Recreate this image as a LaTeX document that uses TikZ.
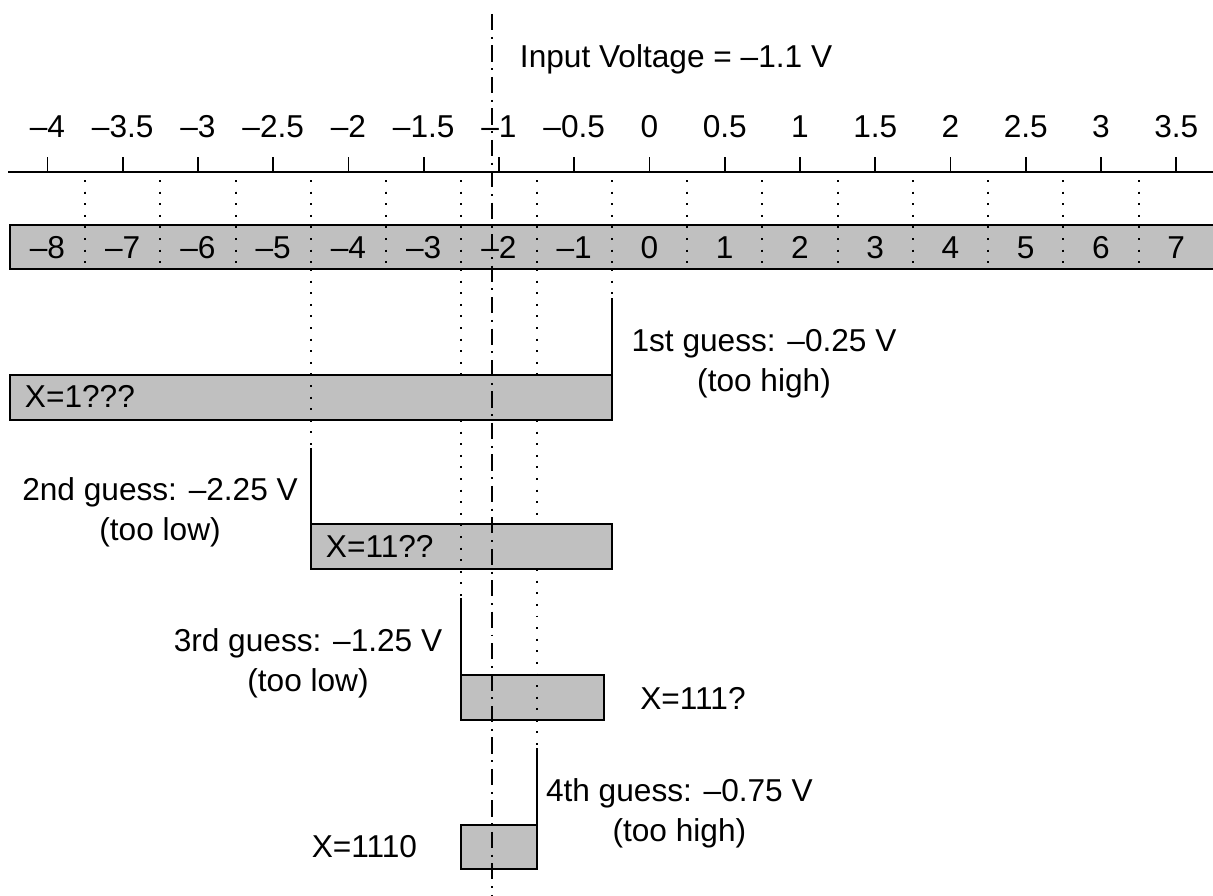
\documentclass[tikz,border=0pt]{standalone}
\usepackage{fontspec}
\setmainfont{Liberation Sans}
\usetikzlibrary{positioning}
\definecolor{barfill}{HTML}{C0C0C0}

\begin{document}
\begin{tikzpicture}[
    x=3.01cm, y=-0.02cm, line width=1.1pt,
    lbl/.style={font=\fontsize{18}{22.76}\selectfont, inner sep=0pt, align=center},
    bar/.style={draw, fill=barfill},
    guide/.style={dash pattern=on 1.1pt off 5.5pt},
    vin/.style={dash pattern=on 9.2pt off 3.8pt on 1.1pt off 3.8pt}
  ]
    \useasboundingbox (-4.3156,0) rectangle (3.7442,895);

    % voltage scale
    \draw (3.7442,172) -- (-4.262,172);
    \foreach \v/\t [count=\i] in {-4/–4,-3.5/–3.5,-3/–3,-2.5/–2.5,-2/–2,-1.5/–1.5,-1/–1,-0.5/–0.5,
                                  0/0,0.5/0.5,1/1,1.5/1.5,2/2,2.5/2.5,3/3,3.5/3.5} {
      \draw (\v,157) -- (\v,172);
      \node[lbl, anchor=base] (volt\i) at (\v,137) {\t};
    }

    % output codes
    \fill[barfill] (-4.25,225) rectangle (3.7442,269);
    \draw (3.7442,225) -- (-4.25,225) -- (-4.25,269) -- (3.7442,269);
    \foreach \k in {-7,...,7}
      \draw[guide] (\k/2-0.25,180) -- (\k/2-0.25,269);
    \foreach \k/\t [count=\i] in {-8/–8,-7/–7,-6/–6,-5/–5,-4/–4,-3/–3,-2/–2,-1/–1,
                                  0/0,1/1,2/2,3/3,4/4,5/5,6/6,7/7}
      \node[lbl, anchor=base] (code\i) at (\k/2,258) {\t};

    % successive approximation
    \draw[bar] (-4.25,375) rectangle (-0.25,420);
    \draw[bar] (-2.25,524) rectangle (-0.25,569);
    \draw[bar] (-1.25,675) rectangle (-0.302,720);
    \draw[bar] (-1.25,825) rectangle (-0.75,869);

    \draw (-0.25,298) -- (-0.25,375);
    \draw (-2.25,448) -- (-2.25,524);
    \draw (-1.25,598) -- (-1.25,675);
    \draw (-0.75,748) -- (-0.75,825);

    \draw[guide] (-0.25,269) -- (-0.25,298);
    \draw[guide] (-2.25,269) -- (-2.25,448);
    \draw[guide] (-1.25,269) -- (-1.25,375) (-1.25,420) -- (-1.25,598);
    \draw[guide] (-0.75,269) -- (-0.75,375) (-0.75,420) -- (-0.75,524) (-0.75,569) -- (-0.75,748);

    \node[lbl, anchor=base west] (x1) at (-4.156,407) {X=1???};
    \node[lbl, anchor=base west] (x2) at (-2.156,557) {X=11??};
    \node[lbl, anchor=base] (x3) at (0.289,709) {X=111?};
    \node[lbl, anchor=base east] (x4) at (-1.538,857) {X=1110};

    \node[lbl, anchor=base] (g1) at (0.761,391) {1st guess: –0.25 V\\(too high)};
    \node[lbl, anchor=base] (g2) at (-3.252,540) {2nd guess: –2.25 V\\(too low)};
    \node[lbl, anchor=base] (g3) at (-2.269,691) {3rd guess: –1.25 V\\(too low)};
    \node[lbl, anchor=base west] (g4) at (-0.694,841) {4th guess: –0.75 V\\(too high)};

    % input voltage
    \node[lbl, anchor=base west] (vinlbl) at (-0.867,67) {Input Voltage = –1.1 V};
    \draw[vin] (-1.047,14) -- (-1.047,895);
  \end{tikzpicture}
\end{document}
